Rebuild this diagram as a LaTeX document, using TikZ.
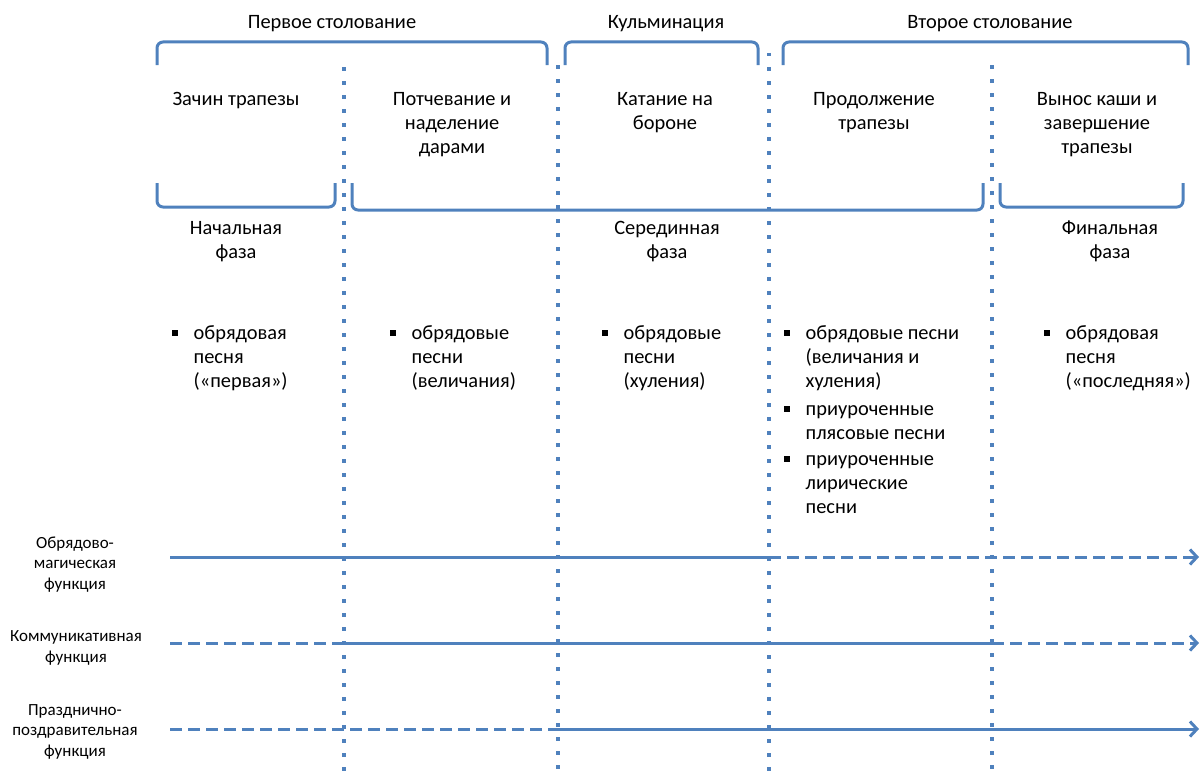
\documentclass[tikz,border=0pt]{standalone}
\usepackage{fontspec}
\setmainfont{Carlito}
\usetikzlibrary{arrows.meta}
\definecolor{lineblue}{HTML}{4F81BD}
\newcommand{\sqbul}{\rule[3.5pt]{5.5pt}{5.5pt}}
\tikzset{
  brace/.style={lineblue, line width=3pt, rounded corners=6pt},
  divider/.style={lineblue, line width=3.5pt, dash pattern=on 3.5pt off 10.5pt},
  flow/.style={lineblue, line width=3pt},
  flowdash/.style={lineblue, line width=3pt, dash pattern=on 12pt off 6pt},
  tip/.style={-{Straight Barb[length=7pt,width=15pt,line width=3pt]}},
  title/.style={font=\fontsize{20.4}{24}\selectfont, align=center, anchor=base, inner sep=0pt},
  songs/.style={font=\fontsize{20.4}{24}\selectfont, anchor=base west, inner sep=0pt},
  func/.style={font=\fontsize{17}{20.5}\selectfont, align=center, anchor=base, inner sep=0pt},
}
\begin{document}
\begin{tikzpicture}[x=1pt,y=-1pt]
  \useasboundingbox (0,0) rectangle (1201,776);
  % vertical dividers
  \draw[divider] (344,67) -- (344,780);
  \draw[divider] (558,65) -- (558,780);
  \draw[divider] (769,53) -- (769,780);
  \draw[divider] (992,65) -- (992,780);
  % upper braces
  \draw[brace] (157,65) -- (157,42) -- (547,42) -- (547,65);
  \draw[brace] (565,65) -- (565,42) -- (758,42) -- (758,65);
  \draw[brace] (783,65) -- (783,42) -- (1188,42) -- (1188,65);
  \node[title] (first) at (332,29) {Первое столование};
  \node[title] (climax) at (666,29) {Кульминация};
  \node[title] (second) at (990,29) {Второе столование};
  % stages (base = last line)
  \node[title] (st1) at (236,105) {Зачин трапезы};
  \node[title] (st2) at (452,153) {Потчевание и\\наделение\\дарами};
  \node[title] (st3) at (665,129) {Катание на\\бороне};
  \node[title] (st4) at (874,129) {Продолжение\\трапезы};
  \node[title] (st5) at (1097,153) {Вынос каши и\\завершение\\трапезы};
  % lower braces
  \draw[brace] (157,183) -- (157,207) -- (335,207) -- (335,183);
  \draw[brace] (352,183) -- (352,210) -- (983,210) -- (983,183);
  \draw[brace] (1000,183) -- (1000,207) -- (1183,207) -- (1183,183);
  \node[title] (ph1) at (236,258) {Начальная\\фаза};
  \node[title] (ph2) at (667,258) {Серединная\\фаза};
  \node[title] (ph3) at (1110,258) {Финальная\\фаза};
  % songs
  \node[songs] (sg1) at (172,339) {\begin{tabular}[t]{@{}l@{\hspace{16pt}}l@{}}\sqbul & обрядовая\\ & песня\\ & («первая»)\end{tabular}};
  \node[songs] (sg2) at (390,339) {\begin{tabular}[t]{@{}l@{\hspace{16pt}}l@{}}\sqbul & обрядовые\\ & песни\\ & (величания)\end{tabular}};
  \node[songs] (sg3) at (602,339) {\begin{tabular}[t]{@{}l@{\hspace{16pt}}l@{}}\sqbul & обрядовые\\ & песни\\ & (хуления)\end{tabular}};
  \node[songs] (sg4) at (784,339) {\begin{tabular}[t]{@{}l@{\hspace{16pt}}l@{}}\sqbul & обрядовые песни\\ & (величания и\\ & хуления)\\[4pt] \sqbul & приуроченные\\ & плясовые песни\\[2pt] \sqbul & приуроченные\\ & лирические\\ & песни\end{tabular}};
  \node[songs] (sg5) at (1044,339) {\begin{tabular}[t]{@{}l@{\hspace{16pt}}l@{}}\sqbul & обрядовая\\ & песня\\ & («последняя»)\end{tabular}};
  % functions (base = last line)
  \node[func] (f1) at (75,589) {Обрядово-\\магическая\\функция};
  \node[func] (f2) at (76,662) {Коммуникативная\\функция};
  \node[func] (f3) at (75,756) {Празднично-\\поздравительная\\функция};
  \coordinate (a0) at (170,557);
  \coordinate (a1) at (769,557);
  \coordinate (a2) at (1199,557);
  \coordinate (b0) at (170,643);
  \coordinate (b1) at (344,643);
  \coordinate (b2) at (992,643);
  \coordinate (b3) at (1199,643);
  \coordinate (c0) at (170,729);
  \coordinate (c1) at (558,729);
  \coordinate (c2) at (1199,729);
  \draw[flow] (a0) -- (a1);
  \draw[flowdash, tip] (a1) -- (a2);
  \draw[flowdash] (b0) -- (b1);
  \draw[flow] (b1) -- (b2);
  \draw[flowdash, tip] (b2) -- (b3);
  \draw[flowdash] (c0) -- (c1);
  \draw[flow, tip] (c1) -- (c2);
\end{tikzpicture}
\end{document}
